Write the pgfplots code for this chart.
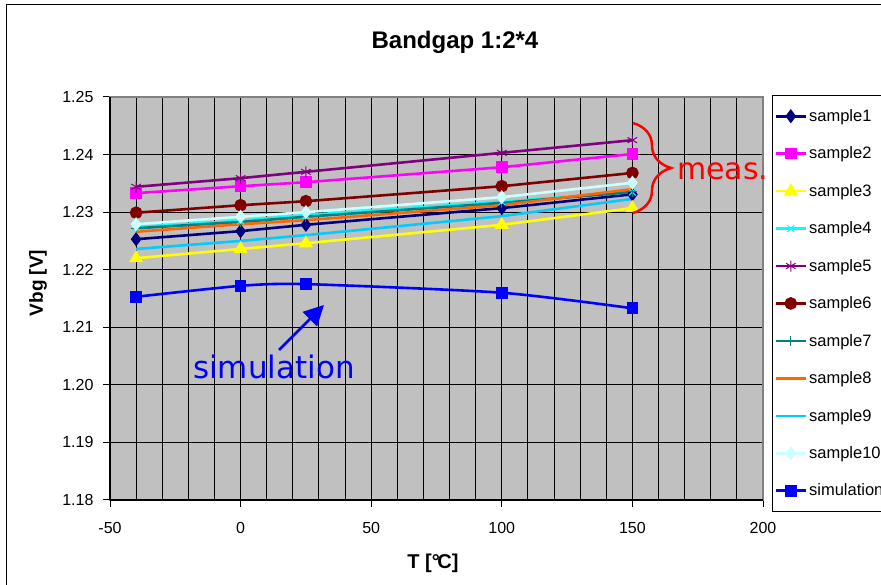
\documentclass[border=0pt]{standalone}
\usepackage{fontspec}
\setmainfont{Liberation Sans}
\newfontfamily\dejavu{DejaVu Sans}
\usepackage{pgfplots}
\pgfplotsset{compat=1.18}
\usetikzlibrary{arrows.meta,decorations.pathreplacing}

\definecolor{plotbg}{HTML}{C0C0C0}
\definecolor{sOne}{HTML}{000080}
\definecolor{sTwo}{HTML}{FF00FF}
\definecolor{sThree}{HTML}{FFFF00}
\definecolor{sFour}{HTML}{00FFFF}
\definecolor{sFive}{HTML}{800080}
\definecolor{sSix}{HTML}{800000}
\definecolor{sSeven}{HTML}{008080}
\definecolor{sEight}{HTML}{FF6600}
\definecolor{sNine}{HTML}{00CCFF}
\definecolor{sTen}{HTML}{CCFFFF}
\definecolor{simblue}{HTML}{0000FF}

\begin{document}
\begin{tikzpicture}
\useasboundingbox (0,0) rectangle (881bp,585bp);
% chart frame (right and bottom edges fall outside the picture)
\draw[black, line width=1bp] (6bp,-20bp) -- (6bp,580bp) -- (900bp,580bp);

\begin{axis}[
  at={(110bp,85bp)}, anchor=south west,
  scale only axis,
  width=653bp, height=403bp,
  xmin=-50, xmax=200,
  ymin=1.18, ymax=1.25,
  xtick={-50,0,50,100,150,200},
  xticklabels={-50,0,50,100,150,200},
  ytick={1.18,1.19,1.20,1.21,1.22,1.23,1.24,1.25},
  yticklabels={1.18,1.19,1.20,1.21,1.22,1.23,1.24,1.25},
  minor x tick num=4,
  minor tick length=0pt,
  major tick length=7bp,
  tick align=outside,
  xtick pos=bottom, ytick pos=left,
  tick style={black, line width=1bp},
  grid=both,
  major grid style={black, line width=1bp},
  minor grid style={black, line width=1bp},
  axis background/.style={fill=plotbg},
  axis line style={draw=gray, line width=2bp},
  tick label style={font=\fontsize{16bp}{19bp}\selectfont},
  xticklabel style={yshift=-12bp},
  yticklabel style={xshift=-6bp},
  clip=false,
  every axis plot/.append style={line width=2.6bp},
  legend cell align=left,
  legend style={
    at={(1.0138,1.005)}, anchor=north west,
    draw=black, line width=1bp, fill=white,
    font=\fontsize{16.5bp}{19bp}\selectfont,
    inner xsep=2bp, inner ysep=12bp,
    row sep=20bp,
    nodes={inner sep=2bp},
  },
  legend image code/.code={%
    \draw[mark repeat=2,mark phase=2] plot coordinates {(0bp,0bp) (15bp,0bp) (30bp,0bp)};},
]
% vertical and bottom axis lines in black
\draw[black, line width=1.2bp] (rel axis cs:0,0) -- (rel axis cs:0,1);
\draw[black, line width=1.2bp] (rel axis cs:0,0) -- (rel axis cs:1,0);

\addplot[color=sOne, mark=diamond*, mark size=5bp, mark options={fill=sOne}] coordinates {
  (-40,1.2253) (0,1.2267) (25,1.2278) (100,1.2307) (150,1.2331)};
\addlegendentry{sample1}
\addplot[color=sTwo, mark=square*, mark size=4.5bp, mark options={fill=sTwo}] coordinates {
  (-40,1.2333) (0,1.2345) (25,1.2352) (100,1.2378) (150,1.2401)};
\addlegendentry{sample2}
\addplot[color=sThree, mark=triangle*, mark size=5.5bp, mark options={fill=sThree}] coordinates {
  (-40,1.2220) (0,1.2236) (25,1.2246) (100,1.2278) (150,1.2307)};
\addlegendentry{sample3}
\addplot[color=sFour, mark=x, mark size=5bp, mark options={line width=1bp}] coordinates {
  (-40,1.2274) (0,1.2285) (25,1.2295) (100,1.2318) (150,1.2335)};
\addlegendentry{sample4}
\addplot[color=sFive, mark=asterisk, mark size=5.5bp, mark options={line width=1bp}] coordinates {
  (-40,1.2344) (0,1.2359) (25,1.2370) (100,1.2403) (150,1.2425)};
\addlegendentry{sample5}
\addplot[color=sSix, mark=*, mark size=5bp, mark options={fill=sSix}] coordinates {
  (-40,1.2299) (0,1.2312) (25,1.2319) (100,1.2345) (150,1.2368)};
\addlegendentry{sample6}
\addplot[color=sSeven, mark=+, mark size=5bp, mark options={line width=1bp}] coordinates {
  (-40,1.2272) (0,1.2283) (25,1.2292) (100,1.2316) (150,1.2335)};
\addlegendentry{sample7}
\addplot[color=sEight, mark=none] coordinates {
  (-40,1.2266) (0,1.2279) (25,1.2286) (100,1.2312) (150,1.2340)};
\addlegendentry{sample8}
\addplot[color=sNine, mark=none] coordinates {
  (-40,1.2236) (0,1.2250) (25,1.2260) (100,1.2293) (150,1.2323)};
\addlegendentry{sample9}
\addplot[color=sTen, mark=diamond*, mark size=5bp, mark options={fill=sTen}] coordinates {
  (-40,1.2279) (0,1.2292) (25,1.2300) (100,1.2326) (150,1.2351)};
\addlegendentry{sample10}
\addplot[color=simblue, smooth, tension=0.4, mark=square*, mark size=4.5bp, mark options={fill=simblue}] coordinates {
  (-40,1.2153) (0,1.2172) (25,1.2175) (100,1.2160) (150,1.2133)};
\addlegendentry{simulation\hspace*{12bp}}
\end{axis}

% title and axis labels
\node[font=\fontsize{24bp}{28bp}\selectfont\bfseries] at (455bp,543bp) {Bandgap 1:2*4};
\node[font=\fontsize{19bp}{23bp}\selectfont\bfseries, rotate=90] at (38bp,302bp) {Vbg [V]};
\node[font=\fontsize{20bp}{24bp}\selectfont\bfseries] at (433bp,22bp) {T [°\kern-0.12em C]};

% annotations
\draw[red, line width=2.5bp, decorate, decoration={brace, amplitude=38bp, aspect=0.5}]
  (633bp,462bp) -- (633bp,372bp);
\node[anchor=base west, inner sep=0pt, text=red, font=\dejavu\fontsize{30bp}{36bp}\selectfont] at (677bp,405bp) {meas.};
\node[anchor=base west, inner sep=0pt, text=simblue, font=\dejavu\fontsize{31bp}{37bp}\selectfont] at (193bp,206bp) {simulation};
\draw[simblue, line width=2.5bp, -{Triangle[length=20bp, width=20bp]}] (279bp,235bp) -- (324bp,280bp);
\end{tikzpicture}
\end{document}
